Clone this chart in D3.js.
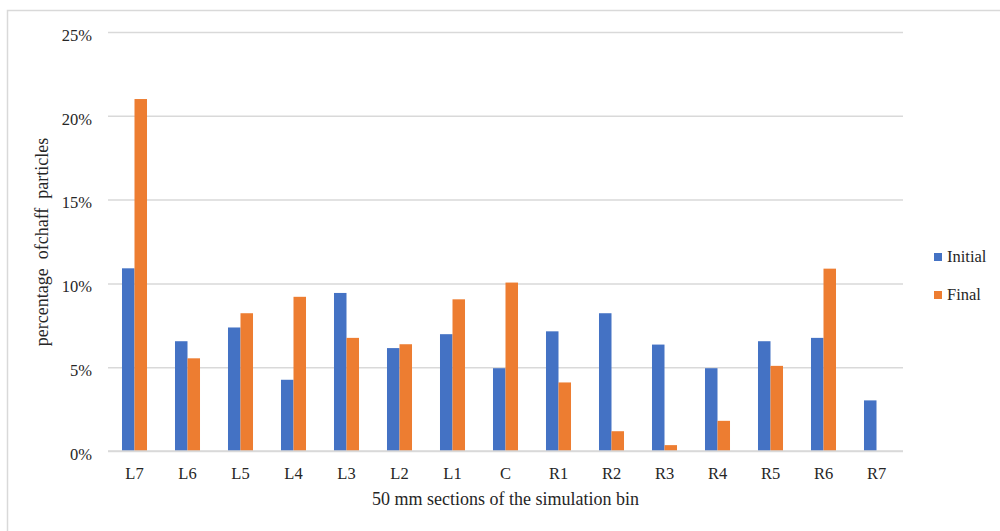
<!DOCTYPE html>
<html>
<head>
<meta charset="utf-8">
<script src="https://cdn.jsdelivr.net/npm/d3@7"></script>
<style>
  html, body { margin: 0; padding: 0; background: #fff; }
  svg { display: block; }
  text { font-family: "Liberation Serif", "Times New Roman", serif; fill: #262626; }
</style>
</head>
<body>
<svg id="chart" width="1000" height="531"></svg>
<script>
// Section names along the bin, left to right
const sections = ["L7", "L6", "L5", "L4", "L3", "L2", "L1", "C", "R1", "R2", "R3", "R4", "R5", "R6", "R7"];
// Share of chaff particles in each section (fraction of total)
const initialShare = [0.109, 0.0655, 0.0737, 0.0425, 0.0943, 0.0614, 0.0697, 0.0494, 0.0714, 0.0822, 0.0635, 0.0494, 0.0655, 0.0675, 0.0302];
const finalShare   = [0.210, 0.0553, 0.0822, 0.0920, 0.0675, 0.0637, 0.0905, 0.1005, 0.0409, 0.0118, 0.0035, 0.0180, 0.0508, 0.1088, 0];
const seriesNames = ["Initial", "Final"];
const seriesColors = ["#4472C4", "#ED7D31"];
const yTicks = [0, 0.05, 0.10, 0.15, 0.20, 0.25];

const svg = d3.select("#chart");

// outer frame
svg.append("rect")
  .attr("x", 7.5).attr("y", 10.5)
  .attr("width", 1020).attr("height", 560)
  .attr("fill", "none").attr("stroke", "#d9d9d9").attr("stroke-width", 1.5);

const plot = { left: 108, right: 903, top: 32, bottom: 451 };

const x = d3.scaleBand()
  .domain(sections)
  .range([plot.left, plot.right])
  .paddingInner(0.528)
  .paddingOuter(0.264);

const xs = d3.scaleBand()
  .domain(seriesNames)
  .range([0, x.bandwidth()]);

const y = d3.scaleLinear()
  .domain([0, 0.25])
  .range([plot.bottom, plot.top]);

// horizontal gridlines and y-axis labels
const yAxis = d3.axisLeft(y)
  .tickValues(yTicks)
  .tickFormat(d3.format(".0%"))
  .tickSize(-(plot.right - plot.left))
  .tickPadding(16);

const gy = svg.append("g")
  .attr("transform", `translate(${plot.left},0)`)
  .call(yAxis);
gy.select(".domain").remove();
gy.selectAll(".tick line").attr("stroke", "#d9d9d9").attr("stroke-width", 1.5);
gy.selectAll(".tick text")
  .attr("font-size", "16.5px")
  .attr("dy", "0.5em")
  .attr("fill", "#262626");

// bars
const data = sections.map((s, i) => ({ section: s, values: [initialShare[i], finalShare[i]] }));
const groups = svg.append("g").selectAll("g")
  .data(data)
  .join("g")
  .attr("transform", d => `translate(${x(d.section)},0)`);

groups.selectAll("rect")
  .data(d => d.values.map((v, k) => ({ name: seriesNames[k], value: v, color: seriesColors[k] })))
  .join("rect")
  .attr("x", d => xs(d.name))
  .attr("width", xs.bandwidth())
  .attr("y", d => y(d.value))
  .attr("height", d => y(0) - y(d.value))
  .attr("fill", d => d.color);

// category axis
const xAxis = d3.axisBottom(x).tickSize(0).tickPadding(16);
const gx = svg.append("g")
  .attr("transform", `translate(0,${plot.bottom})`)
  .call(xAxis);
gx.select(".domain")
  .attr("stroke", "#d9d9d9").attr("stroke-width", 1.5)
  .attr("d", `M${plot.left},0H${plot.right}`);
gx.selectAll(".tick text")
  .attr("font-size", "16.5px")
  .attr("fill", "#262626");

// axis titles
svg.append("text")
  .attr("x", (plot.left + plot.right) / 2)
  .attr("y", 505)
  .attr("text-anchor", "middle")
  .attr("font-size", "18px")
  .text("50 mm sections of the simulation bin");

svg.append("text")
  .attr("transform", "translate(48,242) rotate(-90)")
  .attr("text-anchor", "middle")
  .attr("font-size", "18px")
  .style("white-space", "pre")
  .text("percentage  ofchaff  particles");

// legend
const legend = svg.append("g")
  .selectAll("g")
  .data(seriesNames)
  .join("g")
  .attr("transform", (d, i) => `translate(934,${253 + i * 38})`);
legend.append("rect")
  .attr("width", 8).attr("height", 8)
  .attr("fill", (d, i) => seriesColors[i]);
legend.append("text")
  .attr("x", 13).attr("y", 9)
  .attr("font-size", "16.5px")
  .text(d => d);
</script>
</body>
</html>
